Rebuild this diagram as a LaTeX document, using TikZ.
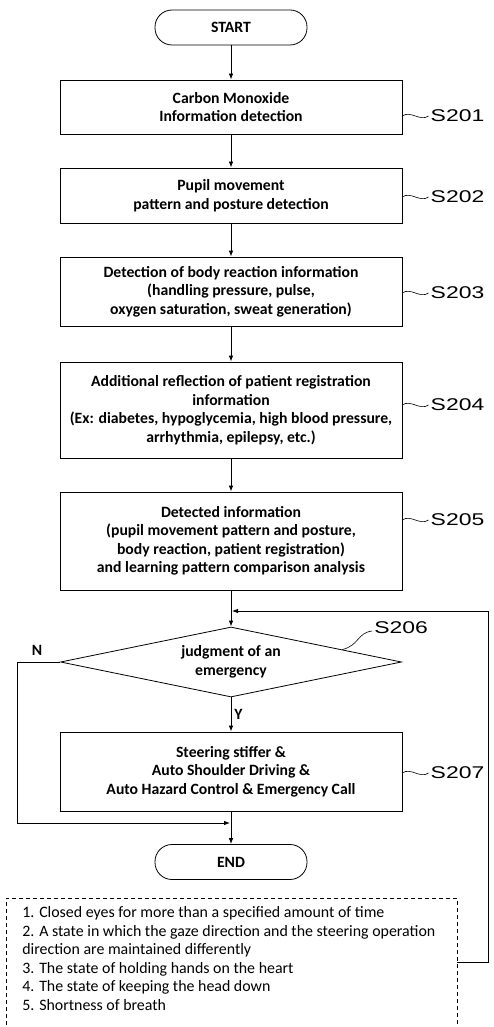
\documentclass[tikz,border=0pt]{standalone}
\usepackage{fontspec}
\setmainfont{Carlito}
\newfontfamily\labfont{Liberation Sans}
\usetikzlibrary{shapes.geometric,arrows.meta,calc}
\newcommand{\steptext}[1]{\scalebox{1.35}[1]{#1}}
\begin{document}
\begin{tikzpicture}[x=1pt,y=-1pt,
  line width=0.8pt,
  every node/.style={font=\bfseries\fontsize{15.7}{18.5}\selectfont},
  procbox/.style={draw,rectangle,minimum width=342pt,inner sep=0pt,align=center},
  term/.style={draw,rectangle,rounded corners=17pt,minimum width=152pt,minimum height=35pt,inner sep=0pt},
  decision/.style={draw,diamond,aspect=4.87,minimum width=341pt,minimum height=70pt,inner sep=0pt,align=center},
  arr/.style={-{Latex[length=6pt,width=4.5pt]}},
  steplabel/.style={font=\labfont\fontsize{17}{17}\selectfont,anchor=west,inner sep=0pt,xshift=2pt},
  tilde/.style={line width=0.6pt},
  notes/.style={font=\fontsize{15.9}{18.6}\selectfont,align=left,anchor=north west,inner sep=0pt}]
\useasboundingbox (0,0) rectangle (493,1027);

\node[term] (start) at (231,27.5) {START};
\node[procbox,minimum height=54pt] (s1) at (231,107) {Carbon Monoxide\\Information detection};
\node[procbox,minimum height=55pt] (s2) at (231,195.5) {Pupil movement\\pattern and posture detection};
\node[procbox,minimum height=69pt] (s3) at (231,291.5) {Detection of body reaction information\\(handling pressure, pulse,\\oxygen saturation, sweat generation)};
\node[procbox,minimum height=96pt] (s4) at (231,410) {Additional reflection of patient registration\\information\\(Ex: diabetes, hypoglycemia, high blood pressure,\\arrhythmia, epilepsy, etc.)};
\node[procbox,minimum height=98pt] (s5) at (231,541) {Detected information\\(pupil movement pattern and posture,\\body reaction, patient registration)\\and learning pattern comparison analysis};
\node[decision] (d) at (231,662) {judgment of an\\emergency};
\node[procbox,minimum height=79pt] (s7) at (231,771.5) {Steering stiffer \&\\Auto Shoulder Driving \&\\Auto Hazard Control \& Emergency Call};
\node[term] (end) at (231,862) {END};

\coordinate (j1) at (231,611);
\coordinate (j2) at (231,823);
\coordinate (nl) at (17,662);
\coordinate (nb) at (457,962);
\coordinate (fr) at (488,962);

\draw[arr] (start) -- (s1);
\draw[arr] (s1) -- (s2);
\draw[arr] (s2) -- (s3);
\draw[arr] (s3) -- (s4);
\draw[arr] (s4) -- (s5);
\draw[arr] (s5) -- (d);
\draw[arr] (d) -- node[right,xshift=2pt,inner sep=1pt] {Y} (s7);
\draw[arr] (s7) -- (end);
\draw[arr] (d.west) -- (nl) -- (nl |- j2) -- ([xshift=-1pt]j2);
\draw[arr] (nb) -- (fr) -- (fr |- j1) -- ([xshift=1pt]j1);
\node[inner sep=0pt] (nlab) at (37,650) {N};

% step labels
\draw[tilde] ([yshift=-9pt]s1.east) .. controls +(8,-6) and +(-8,6) .. ++(26,0) node[steplabel] (l1) {\steptext{S201}};
\draw[tilde] ([yshift=-1.5pt]s2.east) .. controls +(8,-6) and +(-8,6) .. ++(26,0) node[steplabel] (l2) {\steptext{S202}};
\draw[tilde] ([yshift=-1.5pt]s3.east) .. controls +(8,-6) and +(-8,6) .. ++(26,0) node[steplabel] (l3) {\steptext{S203}};
\draw[tilde] ([yshift=5pt]s4.east) .. controls +(8,-6) and +(-8,6) .. ++(26,0) node[steplabel] (l4) {\steptext{S204}};
\draw[tilde] ([yshift=21pt]s5.east) .. controls +(8,-6) and +(-8,6) .. ++(26,0) node[steplabel] (l5) {\steptext{S205}};
\draw[tilde] ([yshift=-1.5pt]s7.east) .. controls +(8,-6) and +(-8,6) .. ++(26,0) node[steplabel] (l7) {\steptext{S207}};
\draw[tilde] ($(d.north)!0.65!(d.east)$) .. controls +(17,-4) and +(-15,2) .. (372,631) node[steplabel,yshift=3pt] (l6) {\steptext{S206}};

% notes
\draw[dashed,dash pattern=on 4pt off 3pt,line width=0.6pt] (6,1032) -- (6,898) -- (457,898) -- (457,1032);
\node[notes] (notes) at (22,906) {1. Closed eyes for more than a specified amount of time\\
2. A state in which the gaze direction and the steering operation\\
direction are maintained differently\\
3. The state of holding hands on the heart\\
4. The state of keeping the head down\\
5. Shortness of breath};
\end{tikzpicture}
\end{document}
